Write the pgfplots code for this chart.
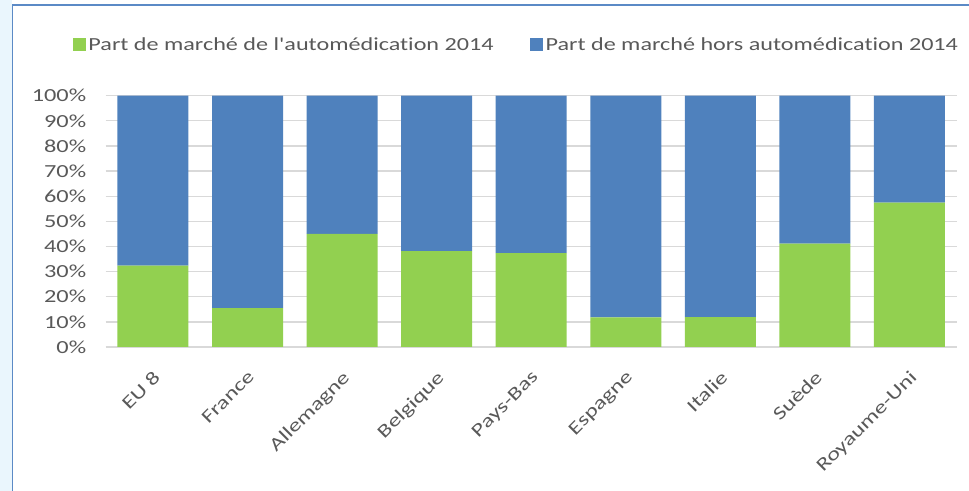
\documentclass[border=0pt]{standalone}
\usepackage{pgfplots}
\pgfplotsset{compat=1.18}
\usepackage{fontspec}
\setmainfont{Carlito}[FakeStretch=1.32, Ligatures={ResetAll}]
\newfontfamily\lf{Carlito}[FakeStretch=1.31, Ligatures=NoCommon]
\definecolor{cgreen}{HTML}{92D050}
\definecolor{cblue}{HTML}{4F81BD}
\definecolor{ctext}{HTML}{595959}
\definecolor{cgrid}{HTML}{D9D9D9}
\definecolor{cframe}{HTML}{5B8AC6}
\definecolor{cside}{HTML}{EAF6FD}
\begin{document}
\begin{tikzpicture}[x=1bp,y=1bp]
\path[use as bounding box] (0,0) rectangle (969,491);
\fill[cside] (0,0) rectangle (12,491);
\draw[cframe, line width=1.5bp] (12.5,0) -- (12.5,486) -- (969,486);
\begin{axis}[
  at={(105.7bp,144bp)}, anchor=south west, scale only axis,
  width=851bp, height=251.3bp,
  ybar stacked, bar width=71bp,
  xmin=-0.5, xmax=8.5, ymin=0, ymax=100,
  xtick=data,
  xticklabels={EU 8,France,Allemagne,Belgique,Pays-Bas,Espagne,Italie,Suède,Royaume-Uni},
  ytick={0,10,...,100},
  yticklabel={\pgfmathprintnumber{\tick}\%},
  /pgf/number format/assume math mode=true,
  ymajorgrids, grid style={cgrid, line width=1.3bp},
  axis line style={draw=none},
  major tick length=0pt,
  tick label style={font=\fontsize{18.5}{22}\selectfont, text=ctext},
  yticklabel style={anchor=east, xshift=-16bp},
  xticklabel style={rotate=45, anchor=north east, xshift=-13bp, yshift=-12bp},
  legend style={at={(0.483,1.2017)}, anchor=center, draw=none, fill=none,
    legend columns=2, font=\lf\fontsize{18.5}{22}\selectfont, text=ctext,
    /tikz/every even column/.append style={column sep=34bp},
    nodes={inner sep=2.5bp}},
  legend image code/.code={\fill[#1] (0bp,-6.5bp) rectangle (13bp,6.5bp);},
]
\addplot[fill=cgreen, draw=none] coordinates {(0,32.4) (1,15.5) (2,45.0) (3,38.1) (4,37.4) (5,11.8) (6,11.9) (7,41.1) (8,57.4)};
\addplot[fill=cblue, draw=none] coordinates {(0,67.6) (1,84.5) (2,55.0) (3,61.9) (4,62.6) (5,88.2) (6,88.1) (7,58.9) (8,42.6)};
\legend{Part de marché de l'automédication 2014, Part de marché hors automédication 2014}
\end{axis}
\end{tikzpicture}
\end{document}
